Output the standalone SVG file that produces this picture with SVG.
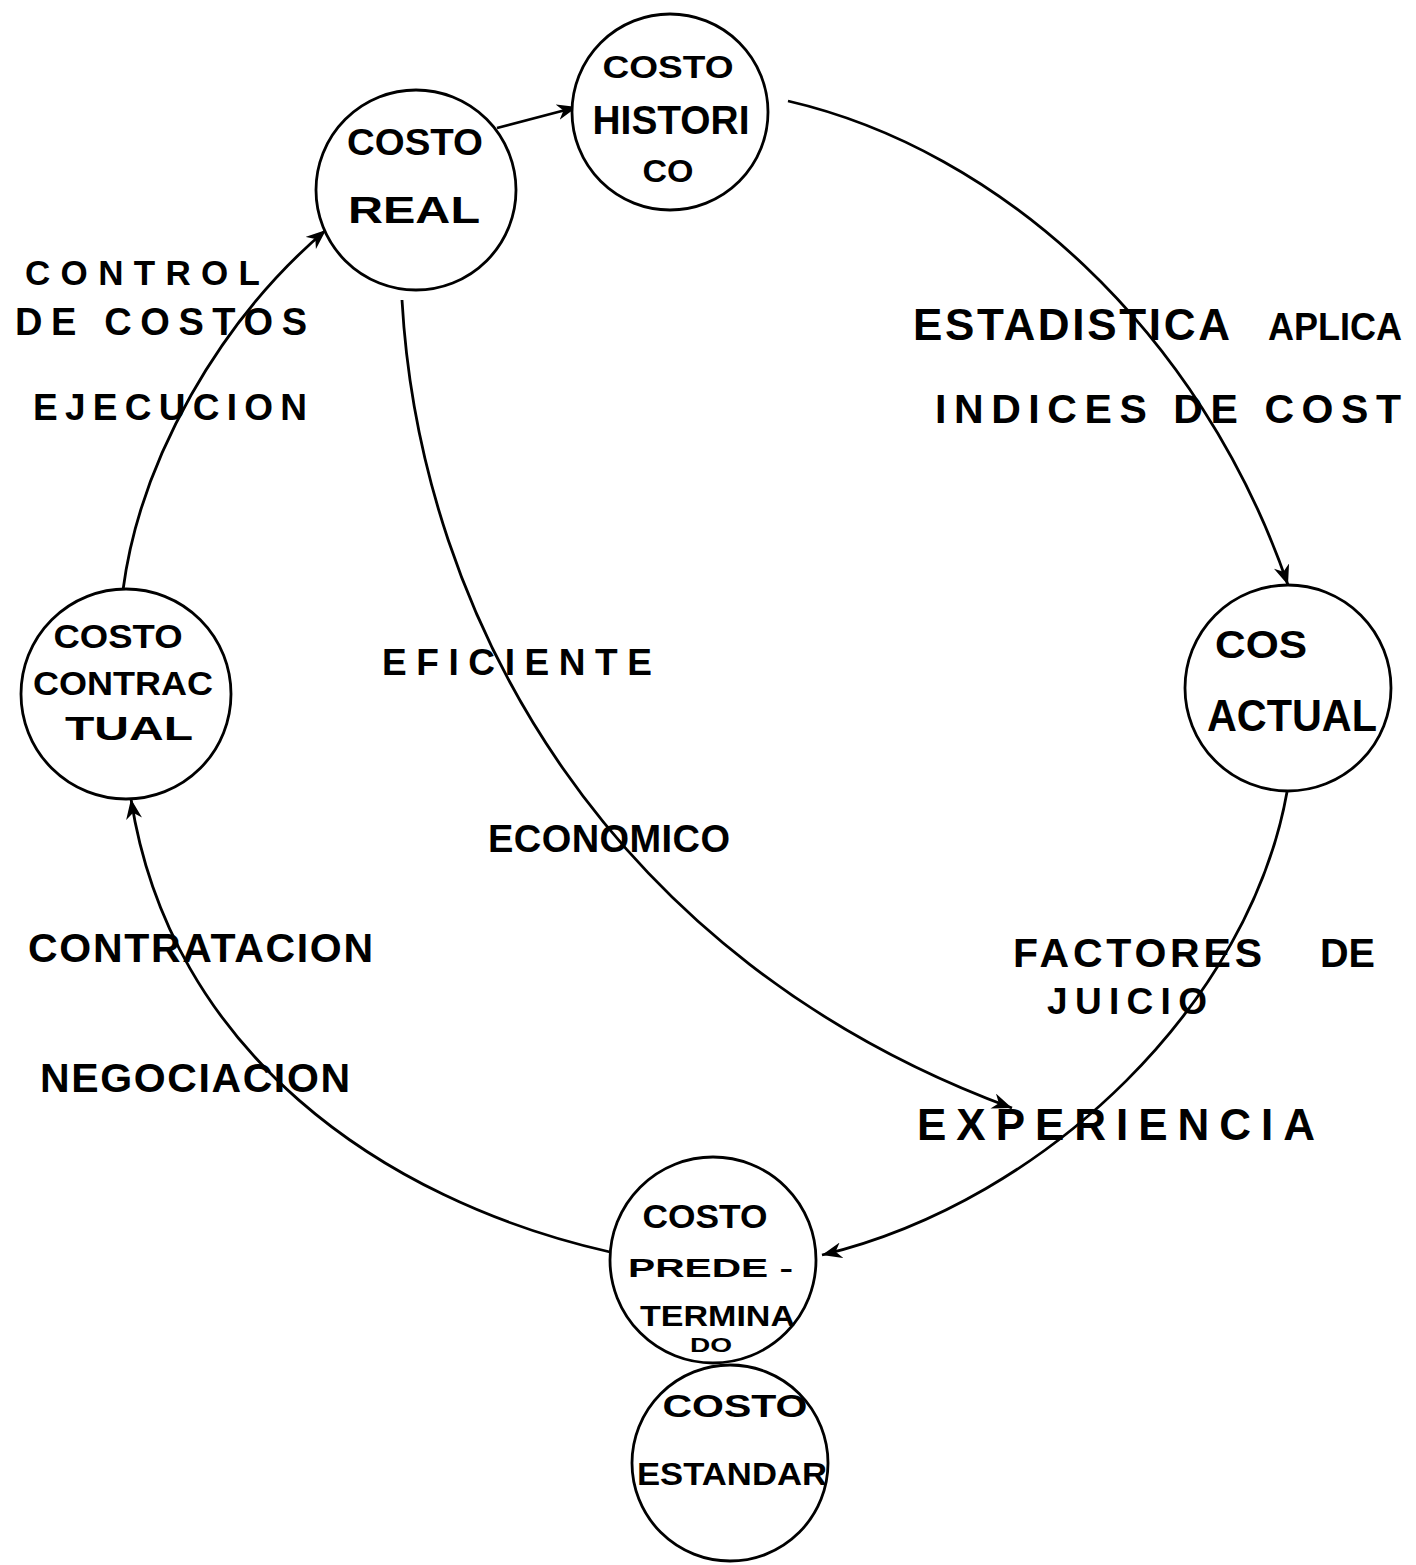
<svg xmlns="http://www.w3.org/2000/svg" width="1416" height="1565" viewBox="0 0 1416 1565">
<style>
.node{fill:#fff;stroke:#000;stroke-width:2.8}
.edge{fill:none;stroke:#000;stroke-width:2.8}
text{font-family:"Liberation Sans",Arial,sans-serif;font-weight:bold;fill:#000}
.c{text-anchor:middle}
</style>
<defs>
<marker id="arr" markerWidth="22" markerHeight="16" refX="20" refY="8" orient="auto" markerUnits="userSpaceOnUse">
<path d="M0,0 L20,8 L0,16 L6,8 Z" fill="#000"/>
</marker>
</defs>
<rect width="1416" height="1565" fill="#fff"/>
<g id="connectors">
<path class="edge" d="M497,128 L577,107" marker-end="url(#arr)"/>
<path class="edge" d="M788,101 C1000,150 1200,330 1288,585" marker-end="url(#arr)"/>
<path class="edge" d="M1287,792 C1250,1000 1050,1200 822,1255" marker-end="url(#arr)"/>
<path class="edge" d="M610,1252 C380,1200 170,1050 131,799" marker-end="url(#arr)"/>
<path class="edge" d="M123,590 C140,460 220,320 326,230" marker-end="url(#arr)"/>
<path class="edge" d="M402,300 C420,620 610,960 1012,1108" marker-end="url(#arr)"/>
</g>
<g id="costo-real">
<circle class="node" cx="416" cy="190" r="100"/>
<text class="c" x="415" y="155" font-size="37" textLength="136" lengthAdjust="spacingAndGlyphs">COSTO</text>
<text class="c" x="414" y="223" font-size="36" textLength="132" lengthAdjust="spacingAndGlyphs">REAL</text>
</g>
<g id="costo-historico">
<circle class="node" cx="670" cy="112" r="98"/>
<text class="c" x="668" y="78" font-size="32" textLength="131" lengthAdjust="spacingAndGlyphs">COSTO</text>
<text class="c" x="671" y="134" font-size="40" textLength="157" lengthAdjust="spacingAndGlyphs">HISTORI</text>
<text class="c" x="668" y="182" font-size="31" textLength="51" lengthAdjust="spacingAndGlyphs">CO</text>
</g>
<g id="cos-actual">
<circle class="node" cx="1288" cy="688" r="103"/>
<text x="1215" y="658" font-size="38" textLength="92" lengthAdjust="spacingAndGlyphs">COS</text>
<text class="c" x="1292" y="731" font-size="44" textLength="170" lengthAdjust="spacingAndGlyphs">ACTUAL</text>
</g>
<g id="costo-contractual">
<circle class="node" cx="126" cy="694" r="105"/>
<text class="c" x="118" y="648" font-size="33" textLength="129" lengthAdjust="spacingAndGlyphs">COSTO</text>
<text class="c" x="123" y="695" font-size="34" textLength="180" lengthAdjust="spacingAndGlyphs">CONTRAC</text>
<text class="c" x="129" y="740" font-size="34" textLength="128" lengthAdjust="spacingAndGlyphs">TUAL</text>
</g>
<g id="costo-predeterminado">
<circle class="node" cx="713" cy="1260" r="103"/>
<text class="c" x="705" y="1228" font-size="34" textLength="125" lengthAdjust="spacingAndGlyphs">COSTO</text>
<text x="628" y="1277" font-size="26" textLength="165" lengthAdjust="spacingAndGlyphs">PREDE -</text>
<text x="640" y="1326" font-size="30" textLength="155" lengthAdjust="spacingAndGlyphs">TERMINA</text>
<text class="c" x="711" y="1352" font-size="20" textLength="42" lengthAdjust="spacingAndGlyphs">DO</text>
</g>
<g id="costo-estandar">
<circle class="node" cx="730" cy="1463" r="98"/>
<text class="c" x="735" y="1417" font-size="31" textLength="145" lengthAdjust="spacingAndGlyphs">COSTO</text>
<text class="c" x="732" y="1485" font-size="32" textLength="190" lengthAdjust="spacingAndGlyphs">ESTANDAR</text>
</g>
<g id="labels">
<text x="25" y="285" font-size="35" textLength="235" lengthAdjust="spacing">CONTROL</text>
<text x="15" y="335" font-size="38" textLength="292" lengthAdjust="spacing">DE COSTOS</text>
<text x="33" y="420" font-size="37" textLength="274" lengthAdjust="spacing">EJECUCION</text>
<text x="913" y="340" font-size="44" textLength="317" lengthAdjust="spacing">ESTADISTICA</text>
<text x="1268" y="340" font-size="38" textLength="134" lengthAdjust="spacingAndGlyphs">APLICA</text>
<text x="935" y="423" font-size="41" textLength="466" lengthAdjust="spacing">INDICES DE COST</text>
<text x="382" y="675" font-size="37" textLength="270" lengthAdjust="spacing">EFICIENTE</text>
<text x="488" y="852" font-size="38" textLength="242" lengthAdjust="spacing">ECONOMICO</text>
<text x="28" y="962" font-size="41" textLength="345" lengthAdjust="spacing">CONTRATACION</text>
<text x="40" y="1092" font-size="41" textLength="310" lengthAdjust="spacing">NEGOCIACION</text>
<text x="1013" y="967" font-size="41" textLength="249" lengthAdjust="spacing">FACTORES</text>
<text x="1320" y="967" font-size="41" textLength="55" lengthAdjust="spacingAndGlyphs">DE</text>
<text x="1047" y="1014" font-size="37" textLength="160" lengthAdjust="spacing">JUICIO</text>
<text x="917" y="1140" font-size="44" textLength="398" lengthAdjust="spacing">EXPERIENCIA</text>
</g>
</svg>
